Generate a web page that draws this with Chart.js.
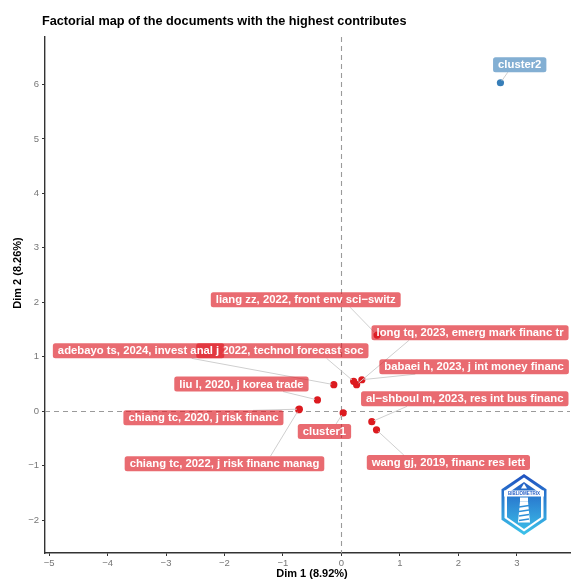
<!DOCTYPE html>
<html>
<head>
<meta charset="utf-8">
<script src="https://cdn.jsdelivr.net/npm/chart.js@4/dist/chart.umd.min.js"></script>
<style>
  html, body { margin: 0; padding: 0; background: #ffffff; overflow: hidden; }
  #wrap { width: 574px; height: 581px; position: relative; }
</style>
</head>
<body>
<div id="wrap"><canvas id="c" width="574" height="581"></canvas></div>
<script>
// ---- data: document coordinates on the first two dimensions ----
const docNames = [
  'liang zz, 2022, front env sci\u2212switz',
  'long tq, 2023, emerg mark financ tr',
  '2022, technol forecast soc',
  'adebayo ts, 2024, invest anal j',
  'babaei h, 2023, j int money financ',
  'liu l, 2020, j korea trade',
  'chiang tc, 2020, j risk financ',
  'chiang tc, 2022, j risk financ manag',
  'al\u2212shboul m, 2023, res int bus financ',
  'wang gj, 2019, financ res lett'
];
const docDim1 = [0.61, 0.26, 0.21, -0.13, 0.35, -0.41, -0.72, -0.73, 0.52, 0.60];
const docDim2 = [1.40, 0.49, 0.55, 0.49, 0.58, 0.21, 0.04, 0.03, -0.19, -0.34];

const clusterNames = ['cluster1', 'cluster2'];
const clusterDim1 = [0.03, 2.72];
const clusterDim2 = [-0.03, 6.03];

const xTickValues = [-5, -4, -3, -2, -1, 0, 1, 2, 3];
const yTickValues = [-2, -1, 0, 1, 2, 3, 4, 5, 6];

const titleText = 'Factorial map of the documents with the highest contributes';
const xTitle = 'Dim 1 (8.92%)';
const yTitle = 'Dim 2 (8.26%)';

// ---- label placement (repelled positions, in axis units) ----
const docLabelAt = [
  [-0.61, 2.05], [2.20, 1.44], [-1.01, 1.11], [-3.47, 1.11], [2.27, 0.82],
  [-1.71, 0.50], [-2.36, -0.12], [-2.00, -0.96], [2.11, 0.23], [1.83, -0.94]
];
const docLabelExtraLeft = [0, 0, 21, 0, 0, 0, 0, 0, 0, 0];
const clusterLabelAt = [[-0.29, -0.37], [3.05, 6.36]];

const RED = '#DC1A1F';
const BLUE = '#377EB8';
const RED_FILL = 'rgba(222,30,40,0.66)';
const BLUE_FILL = 'rgba(55,126,184,0.62)';
const LABEL_FONT = 'bold 11.3px "Liberation Sans", Arial, sans-serif';

function toPoints(xs, ys) { return xs.map((x, i) => ({ x: x, y: ys[i] })); }
function minusFmt(v) { return v < 0 ? '\u2212' + Math.abs(v) : String(v); }

const zeroLines = {
  id: 'zeroLines',
  beforeDatasetsDraw(chart) {
    const { ctx, chartArea: a, scales: { x, y } } = chart;
    ctx.save();
    ctx.strokeStyle = '#9a9a9a';
    ctx.lineWidth = 1.1;
    ctx.setLineDash([5, 4]);
    const px = Math.round(x.getPixelForValue(0)) + 0.5;
    const py = Math.round(y.getPixelForValue(0)) + 0.5;
    ctx.beginPath();
    ctx.moveTo(px, a.top); ctx.lineTo(px, a.bottom);
    ctx.moveTo(a.left, py); ctx.lineTo(a.right, py);
    ctx.stroke();
    ctx.restore();
  }
};

function roundRect(ctx, x, y, w, h, r) {
  ctx.beginPath();
  ctx.moveTo(x + r, y);
  ctx.lineTo(x + w - r, y); ctx.quadraticCurveTo(x + w, y, x + w, y + r);
  ctx.lineTo(x + w, y + h - r); ctx.quadraticCurveTo(x + w, y + h, x + w - r, y + h);
  ctx.lineTo(x + r, y + h); ctx.quadraticCurveTo(x, y + h, x, y + h - r);
  ctx.lineTo(x, y + r); ctx.quadraticCurveTo(x, y, x + r, y);
  ctx.closePath();
}

// where a connector leaves the label box: the box point nearest the mark,
// pulled part of the way along that edge towards the box centre
function segmentStart(x0, y0, w, h, px, py) {
  const inside = px >= x0 && px <= x0 + w && py >= y0 && py <= y0 + h;
  if (inside) return null;
  const cx = x0 + w / 2, cy = y0 + h / 2;
  let sx = Math.min(Math.max(px, x0), x0 + w);
  let sy = Math.min(Math.max(py, y0), y0 + h);
  const pull = 0.38;
  if (sy === y0 || sy === y0 + h) sx += (cx - sx) * pull;
  else sy += (cy - sy) * pull;
  return [sx, sy];
}

const mapLabels = {
  id: 'mapLabels',
  afterDatasetsDraw(chart) {
    const { ctx, scales: { x, y } } = chart;
    ctx.save();
    ctx.font = LABEL_FONT;
    const items = [];
    docNames.forEach((t, i) => items.push({
      text: t, lx: docLabelAt[i][0], ly: docLabelAt[i][1],
      px: docDim1[i], py: docDim2[i], fill: RED_FILL, extra: docLabelExtraLeft[i]
    }));
    clusterNames.forEach((t, i) => items.push({
      text: t, lx: clusterLabelAt[i][0], ly: clusterLabelAt[i][1],
      px: clusterDim1[i], py: clusterDim2[i], fill: i === 0 ? RED_FILL : BLUE_FILL, extra: 0
    }));
    const padX = 5, h = 15;
    items.forEach(it => {
      it.cx = x.getPixelForValue(it.lx);
      it.cy = y.getPixelForValue(it.ly);
      it.tw = ctx.measureText(it.text).width;
      it.w = it.tw + padX * 2 + it.extra;
      it.h = h;
      it.x0 = it.cx - it.w / 2;
      it.y0 = it.cy - it.h / 2;
      it.ppx = x.getPixelForValue(it.px);
      it.ppy = y.getPixelForValue(it.py);
    });
    // connector segments
    ctx.strokeStyle = '#cfcfcf';
    ctx.lineWidth = 1;
    items.forEach(it => {
      const s = segmentStart(it.x0, it.y0, it.w, it.h, it.ppx, it.ppy);
      if (!s) return;
      const d = Math.hypot(it.ppx - s[0], it.ppy - s[1]);
      if (d < 4) return;
      const k = (d - 2.5) / d;
      ctx.beginPath();
      ctx.moveTo(s[0], s[1]);
      ctx.lineTo(s[0] + (it.ppx - s[0]) * k, s[1] + (it.ppy - s[1]) * k);
      ctx.stroke();
    });
    // label boxes and text
    ctx.textBaseline = 'middle';
    ctx.textAlign = 'left';
    items.forEach(it => {
      ctx.fillStyle = it.fill;
      roundRect(ctx, it.x0, it.y0, it.w, it.h, 2.5);
      ctx.fill();
      ctx.fillStyle = '#ffffff';
      ctx.fillText(it.text, it.x0 + padX + it.extra, it.cy + 0.5);
    });
    ctx.restore();
  }
};

function hexPath(ctx, cx, cy, hw, hh) {
  ctx.beginPath();
  ctx.moveTo(cx, cy - hh);
  ctx.lineTo(cx + hw, cy - hh / 2);
  ctx.lineTo(cx + hw, cy + hh / 2);
  ctx.lineTo(cx, cy + hh);
  ctx.lineTo(cx - hw, cy + hh / 2);
  ctx.lineTo(cx - hw, cy - hh / 2);
  ctx.closePath();
}

const decor = {
  id: 'decor',
  afterDraw(chart) {
    const ctx = chart.ctx;
    ctx.save();
    // title
    ctx.fillStyle = '#000';
    ctx.font = 'bold 12.7px "Liberation Sans", Arial, sans-serif';
    ctx.textBaseline = 'middle';
    ctx.textAlign = 'left';
    ctx.fillText(titleText, 42, 21);
    // axis titles
    ctx.font = 'bold 11px "Liberation Sans", Arial, sans-serif';
    ctx.textAlign = 'center';
    ctx.fillText(xTitle, 312, 574);
    ctx.save();
    ctx.translate(18, 273);
    ctx.rotate(-Math.PI / 2);
    ctx.fillText(yTitle, 0, 0);
    ctx.restore();

    // logo badge
    const cx = 524, cy = 504.5;
    const g = ctx.createLinearGradient(0, cy - 31, 0, cy + 31);
    g.addColorStop(0, '#1f4fbf');
    g.addColorStop(1, '#3cc3ea');
    ctx.fillStyle = g;
    hexPath(ctx, cx, cy, 22.5, 30.5); ctx.fill();
    ctx.fillStyle = '#ffffff';
    hexPath(ctx, cx, cy, 19.5, 27); ctx.fill();
    ctx.fillStyle = g;
    hexPath(ctx, cx, cy + 1, 17, 23.5); ctx.fill();
    // banner
    ctx.fillStyle = '#ffffff';
    ctx.fillRect(cx - 20, cy - 14, 40, 6);
    ctx.fillStyle = '#2a63c8';
    ctx.font = 'bold 4.5px "Liberation Sans", Arial, sans-serif';
    ctx.textAlign = 'center';
    ctx.fillText('BIBLIOMETRIX', cx, cy - 10.8);
    // lighthouse
    ctx.fillStyle = '#ffffff';
    ctx.beginPath();
    ctx.moveTo(cx, cy - 21); ctx.lineTo(cx + 3, cy - 16); ctx.lineTo(cx - 3, cy - 16); ctx.closePath();
    ctx.fill();
    ctx.fillRect(cx - 4, cy - 7, 8, 4);
    ctx.beginPath();
    ctx.moveTo(cx - 4, cy - 3); ctx.lineTo(cx + 4, cy - 3);
    ctx.lineTo(cx + 6, cy + 18); ctx.lineTo(cx - 6, cy + 18); ctx.closePath();
    ctx.fill();
    ctx.strokeStyle = '#2f8fd8';
    ctx.lineWidth = 1.6;
    for (let k = 0; k < 4; k++) {
      const yy = cy + 1 + k * 4.5;
      ctx.beginPath();
      ctx.moveTo(cx - 5, yy + 1.5); ctx.lineTo(cx + 5, yy);
      ctx.stroke();
    }
    ctx.restore();
  }
};

new Chart(document.getElementById('c'), {
  type: 'scatter',
  data: {
    datasets: [
      {
        label: 'documents',
        data: toPoints(docDim1, docDim2),
        backgroundColor: RED, borderColor: RED,
        pointRadius: 3.6, borderWidth: 0
      },
      {
        label: 'cluster1',
        data: toPoints([clusterDim1[0]], [clusterDim2[0]]),
        backgroundColor: RED, borderColor: RED,
        pointRadius: 3.6, borderWidth: 0
      },
      {
        label: 'cluster2',
        data: toPoints([clusterDim1[1]], [clusterDim2[1]]),
        backgroundColor: BLUE, borderColor: BLUE,
        pointRadius: 3.6, borderWidth: 0
      }
    ]
  },
  options: {
    responsive: false,
    animation: false,
    events: [],
    layout: { padding: { left: 0, right: 0, top: 37, bottom: 0 } },
    plugins: { legend: { display: false }, tooltip: { enabled: false }, title: { display: false } },
    scales: {
      x: {
        type: 'linear', min: -5.07, max: 3.91,
        afterFit: s => { s.height = 28; },
        afterBuildTicks: s => { s.ticks = xTickValues.map(v => ({ value: v })); },
        ticks: { color: '#777', font: { size: 9.5, family: '"Liberation Sans", Arial, sans-serif' }, padding: 2, maxRotation: 0, autoSkip: false, callback: minusFmt },
        grid: { display: true, drawOnChartArea: false, drawTicks: true, tickLength: 3, color: '#333', lineWidth: 1 },
        border: { display: true, color: '#333', width: 1.4 }
      },
      y: {
        type: 'linear', min: -2.6, max: 6.87,
        afterFit: s => { s.width = 45; },
        afterBuildTicks: s => { s.ticks = yTickValues.map(v => ({ value: v })); },
        ticks: { color: '#777', font: { size: 9.5, family: '"Liberation Sans", Arial, sans-serif' }, padding: 3, autoSkip: false, callback: minusFmt },
        grid: { display: true, drawOnChartArea: false, drawTicks: true, tickLength: 3, color: '#333', lineWidth: 1 },
        border: { display: true, color: '#333', width: 1.4 }
      }
    }
  },
  plugins: [zeroLines, mapLabels, decor]
});
</script>
</body>
</html>
